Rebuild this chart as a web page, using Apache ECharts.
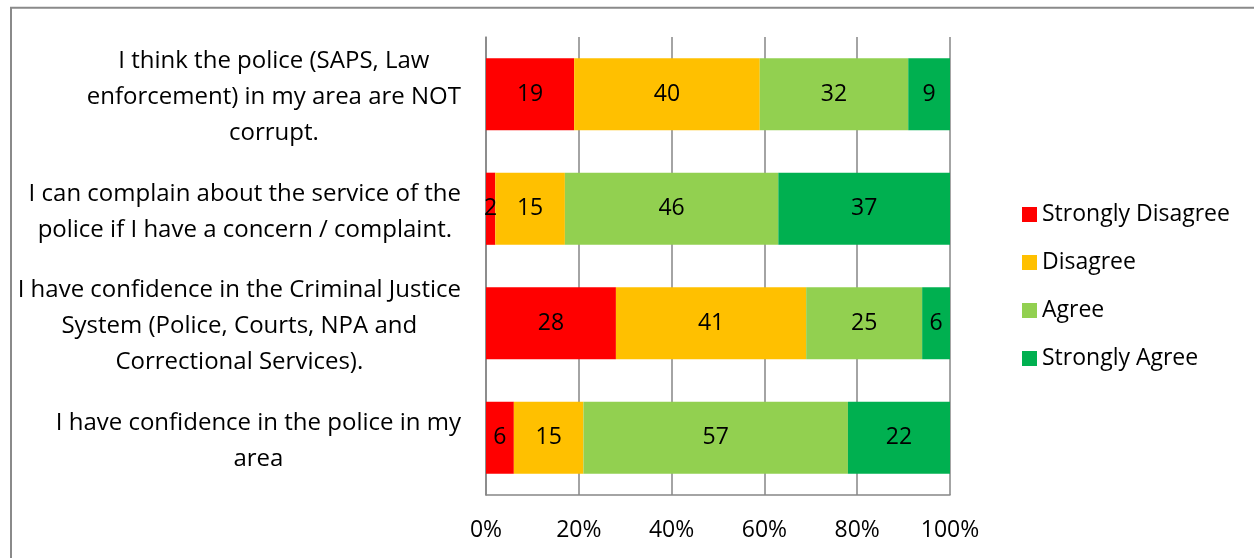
<!DOCTYPE html>
<html>
<head>
<meta charset="utf-8">
<script src="https://cdn.jsdelivr.net/npm/echarts@6/dist/echarts.min.js"></script>
<style>html,body{margin:0;padding:0;background:#fff;}#c{width:1254px;height:558px;}</style>
</head>
<body>
<div id="c"></div>
<script>
const categories = [
  "I think the police (SAPS, Law\nenforcement) in my area are NOT\ncorrupt.",
  "I can complain about the service of the\npolice if I have a concern / complaint.",
  "I have confidence in the Criminal Justice\nSystem (Police, Courts, NPA and\nCorrectional Services).",
  "I have confidence in the police in my\narea"
];
const seriesNames = ["Strongly Disagree", "Disagree", "Agree", "Strongly Agree"];
const stronglyDisagree = [19, 2, 28, 6];
const disagree = [40, 15, 41, 15];
const agree = [32, 46, 25, 57];
const stronglyAgree = [9, 37, 6, 22];
const tickValues = [0, 20, 40, 60, 80, 100];
const colors = ["#FF0000", "#FFC000", "#92D050", "#00B050"];

const FONT = "Open Sans";
const FS = 23;
const CAT_FS = 24;
const dataSets = [stronglyDisagree, disagree, agree, stronglyAgree];

const chart = echarts.init(document.getElementById('c'));
chart.setOption({
  animation: false,
  backgroundColor: '#fff',
  textStyle: { fontFamily: FONT },
  graphic: [{
    type: 'rect',
    shape: { x: 11, y: 7.7, width: 1400, height: 700 },
    style: { fill: 'none', stroke: '#8a8a8a', lineWidth: 2 },
    silent: true
  }],
  grid: { left: 486, right: 304, top: 37, bottom: 63 },
  legend: {
    orient: 'vertical',
    left: 1017,
    top: 198,
    itemWidth: 15,
    itemHeight: 15,
    itemGap: 25,
    icon: 'rect',
    data: seriesNames,
    textStyle: { fontFamily: FONT, fontSize: FS, color: '#000', lineHeight: 23, padding: 0 }
  },
  xAxis: {
    type: 'value',
    min: 0,
    max: 100,
    interval: 20,
    axisLine: { show: true, lineStyle: { color: '#868686', width: 1.5 } },
    axisTick: { show: false },
    splitLine: { show: true, lineStyle: { color: '#868686', width: 1.5 } },
    axisLabel: {
      margin: 24,
      fontFamily: FONT, fontSize: FS, color: '#000',
      formatter: v => tickValues.includes(v) ? v + '%' : ''
    }
  },
  yAxis: {
    type: 'category',
    inverse: true,
    data: categories,
    axisLine: { show: true, lineStyle: { color: '#868686', width: 1.5 } },
    axisTick: { show: false },
    axisLabel: {
      margin: 25,
      align: 'right',
      padding: [6, 0, 0, 0],
      fontFamily: FONT, fontSize: CAT_FS, color: '#000',
      formatter: v => v.split('\n').map(s => '{c|' + s + '}').join('\n'),
      rich: { c: { align: 'center', fontFamily: FONT, fontSize: CAT_FS, lineHeight: 36, color: '#000' } }
    }
  },
  series: seriesNames.map((n, i) => ({
    name: n,
    type: 'bar',
    stack: 'total',
    barWidth: '63%',
    itemStyle: { color: colors[i] },
    label: { show: true, position: 'inside', color: '#000', fontFamily: FONT, fontSize: FS },
    data: dataSets[i]
  }))
});
</script>
</body>
</html>
